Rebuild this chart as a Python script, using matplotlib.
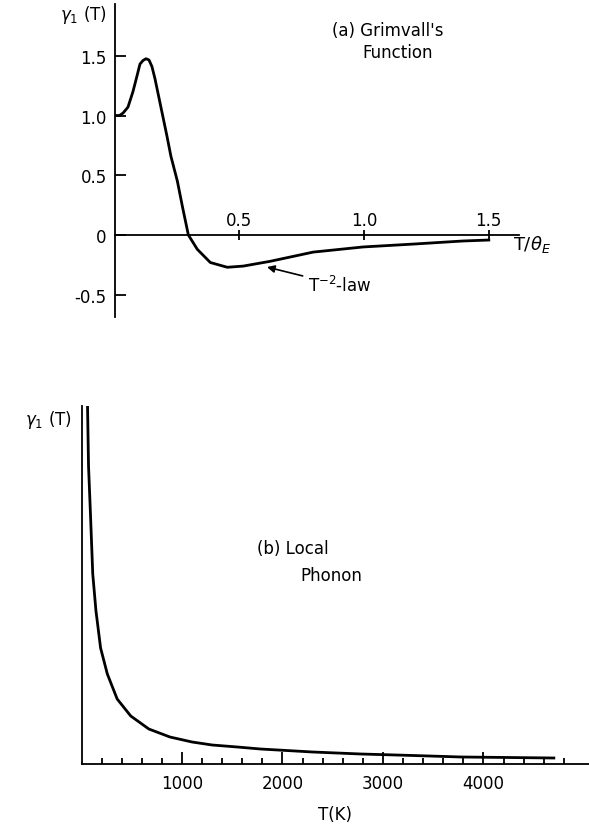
import matplotlib.pyplot as plt
import numpy as np

# (a) Grimvall's function: gamma_1 vs T/theta_E
t_a = [0.0, 0.02, 0.034, 0.054, 0.074, 0.09, 0.102, 0.114, 0.126, 0.138, 0.15,
       0.162, 0.176, 0.19, 0.21, 0.226, 0.252, 0.272, 0.296, 0.332, 0.384, 0.452,
       0.516, 0.624, 0.796, 0.996, 1.196, 1.396, 1.5]
g_a = [1.0, 1.0, 1.02, 1.07, 1.2, 1.33, 1.43, 1.46, 1.475, 1.465, 1.41,
       1.31, 1.17, 1.03, 0.83, 0.66, 0.45, 0.24, 0.0, -0.12, -0.23, -0.27,
       -0.26, -0.22, -0.143, -0.10, -0.076, -0.05, -0.042]
xticks_a = [0.5, 1.0, 1.5]
xlabels_a = ["0.5", "1.0", "1.5"]
yticks_a = [1.5, 1.0, 0.5, 0.0, -0.5]
ylabels_a = ["1.5", "1.0", "0.5", "0", "-0.5"]

# (b) local phonon: gamma_1 (arbitrary units) vs T in K
t_b = [60, 70, 90, 112, 144, 190, 257, 355, 490, 670, 880, 1100, 1300, 1550,
       1780, 2300, 2780, 3300, 3780, 4250, 4700]
g_b = [358, 298, 248, 190, 153, 116, 90, 65, 48, 35, 27, 22, 19, 17,
       15, 12, 10, 8.5, 7, 6.5, 6]
xticks_b = [1000, 2000, 3000, 4000]
xlabels_b = ["1000", "2000", "3000", "4000"]

W, H = 589, 829
FS = 12
LW_AX = 1.3
LW_C = 2.0


def fx(x):
    return x / W


def fy(y):
    return 1 - y / H


fig = plt.figure(figsize=(W / 100, H / 100), dpi=100)

# ---- panel (a)
ax1 = fig.add_axes([fx(114.5), fy(318), (519 - 114.5) / W, 313 / H])
ax1.plot(t_a, g_a, color="black", lw=LW_C, solid_joinstyle="round")
ax1.set_xlim(0, 1.621)
ax1.set_ylim(-0.686, 1.933)
ax1.spines["top"].set_visible(False)
ax1.spines["right"].set_visible(False)
ax1.spines["bottom"].set_position(("data", 0))
for s in ["left", "bottom"]:
    ax1.spines[s].set_linewidth(LW_AX)
ax1.set_yticks(yticks_a, ylabels_a)
ax1.tick_params(axis="y", direction="in", length=8, width=LW_AX, pad=5.5, labelsize=FS)
ax1.set_xticks(xticks_a)
ax1.tick_params(axis="x", direction="inout", length=7, width=LW_AX, labelbottom=False)
for v, lbl in zip(xticks_a, xlabels_a):
    ax1.text(v, 0.08, lbl, ha="center", va="baseline", fontsize=FS)

ax1.annotate(r"T$^{-2}$-law", xy=(0.611, -0.268), xytext=(0.776, -0.42),
             ha="left", va="center", fontsize=FS,
             arrowprops=dict(arrowstyle="-|>", color="black", lw=1.2,
                             mutation_scale=11, shrinkA=2, shrinkB=0))

fig.text(fx(107), fy(20), r"$\gamma_1$ (T)", ha="right", va="baseline", fontsize=FS)
fig.text(fx(388), fy(36), "(a) Grimvall's", ha="center", va="baseline", fontsize=FS)
fig.text(fx(398), fy(58), "Function", ha="center", va="baseline", fontsize=FS)
fig.text(fx(513), fy(250), r"T/$\theta_E$", ha="left", va="baseline", fontsize=FS + 1)

# ---- panel (b)
ax2 = fig.add_axes([fx(81.5), fy(765), (W - 81.5) / W, 358 / H])
ax2.plot(t_b, g_b, color="black", lw=LW_C, solid_joinstyle="round")
ax2.set_xlim(0, 5050)
ax2.set_ylim(0, 358)
ax2.spines["top"].set_visible(False)
ax2.spines["right"].set_visible(False)
for s in ["left", "bottom"]:
    ax2.spines[s].set_linewidth(LW_AX)
ax2.set_yticks([])
ax2.set_xticks(xticks_b, xlabels_b)
ax2.set_xticks([v for v in np.arange(200, 4801, 200) if v % 1000], minor=True)
ax2.tick_params(axis="x", which="major", direction="in", length=8.6, width=LW_AX,
                pad=7, labelsize=FS)
ax2.tick_params(axis="x", which="minor", direction="in", length=4.3, width=LW_AX)

fig.text(fx(72), fy(425), r"$\gamma_1$ (T)", ha="right", va="baseline", fontsize=FS)
fig.text(fx(257), fy(554), "(b) Local", ha="left", va="baseline", fontsize=FS)
fig.text(fx(300), fy(581), "Phonon", ha="left", va="baseline", fontsize=FS)
fig.text(fx(335), fy(815), "T(K)", ha="center", va="center", fontsize=FS)

fig.savefig("out.png", dpi=100)
